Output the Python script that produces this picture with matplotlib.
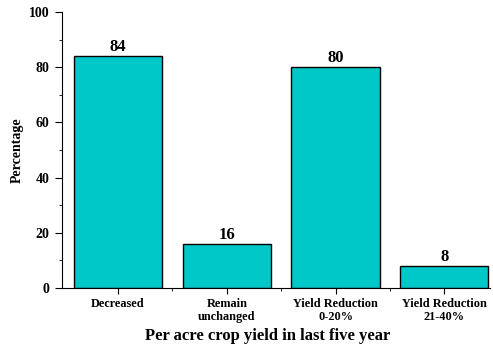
import matplotlib
matplotlib.use('Agg')
import matplotlib.pyplot as plt
from matplotlib.ticker import MultipleLocator, FixedLocator

plt.rcParams['font.family'] = ['Liberation Serif', 'DejaVu Serif']
plt.rcParams['font.weight'] = 'bold'

categories = ['Decreased', 'Remain\nunchanged', 'Yield Reduction\n0-20%', 'Yield Reduction\n21-40%']
values = [84, 16, 80, 8]

fig = plt.figure(figsize=(4.93, 3.48), dpi=100)
ax = fig.add_axes([62/493, 60/348, 428/493, 276/348])

x = list(range(len(values)))
bars = ax.bar(x, values, width=0.81, color='#00C8C8', edgecolor='black', linewidth=1)
for xi, v in zip(x, values):
    ax.text(xi, v + 0.3, str(v), ha='center', va='bottom', fontsize=12, fontweight='bold')

ax.set_xlim(-0.515, 3.42)
ax.set_ylim(0, 100)
ax.set_xticks(x)
ax.set_xticklabels(categories, fontsize=8.8, fontweight='bold', linespacing=1.15)
ax.xaxis.set_minor_locator(FixedLocator([0.5, 1.5, 2.5]))
ax.yaxis.set_major_locator(MultipleLocator(20))
ax.yaxis.set_minor_locator(MultipleLocator(10))
ax.tick_params(axis='y', labelsize=10, direction='out', length=5, pad=4)
ax.tick_params(axis='x', direction='out', length=4, pad=3)
ax.tick_params(which='minor', direction='out', length=2)
for lbl in ax.get_yticklabels():
    lbl.set_fontweight('bold')

ax.spines['top'].set_visible(False)
ax.spines['right'].set_visible(False)

fig.text(268/493, 1 - 336/348, 'Per acre crop yield in last five year',
         ha='center', va='center', fontsize=12, fontweight='bold')
fig.text(17/493, 1 - 150/348, 'Percentage', rotation=90,
         ha='center', va='center', fontsize=10, fontweight='bold')

fig.savefig('out.png', dpi=100)
